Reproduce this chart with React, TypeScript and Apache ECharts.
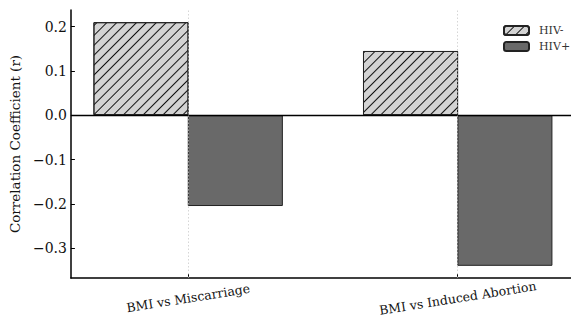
import React, { useEffect, useRef } from "react";
import * as echarts from "echarts";

const CATEGORIES = ["BMI vs Miscarriage", "BMI vs Induced Abortion"];
const SERIES_NAMES = ["HIV-", "HIV+"];
const HIV_NEG = [0.21, 0.145];
const HIV_POS = [-0.205, -0.34];
const Y_TICKS = [-0.3, -0.2, -0.1, 0.0, 0.1, 0.2];
const X_TICKS = [0, 1];

const BAR_W = 0.35;
const FONT = "DejaVu Serif";

export default function App() {
  const ref = useRef<HTMLDivElement>(null);
  useEffect(() => {
    document.body.style.margin = "0";
    if (!ref.current) return;
    const chart = echarts.init(ref.current, null, { renderer: "svg" });

    const gridLeft = 67;
    const gridRight = 0;
    const plotW = 571 - gridLeft - gridRight;
    const fullPlotW = plotW + 4;
    const allVals = [...HIV_NEG, ...HIV_POS];
    const yMinD = Math.min(...allVals, 0);
    const yMaxD = Math.max(...allVals, 0);
    const yPad = (yMaxD - yMinD) * 0.05;
    const yMin = yMinD - yPad;
    const yMax = yMaxD + yPad;
    const xMinD = X_TICKS[0] - BAR_W;
    const xMaxD = X_TICKS[X_TICKS.length - 1] + BAR_W;
    const xPad = (xMaxD - xMinD) * 0.05;
    const xMin = xMinD - xPad;
    const xMaxFull = xMaxD + xPad;
    const xMax = xMin + ((xMaxFull - xMin) * plotW) / fullPlotW;
    const barPx = (BAR_W * plotW) / (xMax - xMin);

    const negData = HIV_NEG.map((v, i) => [X_TICKS[i] - BAR_W / 2, v]);
    const posData = HIV_POS.map((v, i) => [X_TICKS[i] + BAR_W / 2, v]);

    const gridLines = X_TICKS.map((x) => [
      { coord: [x, yMin], lineStyle: { color: "#c4c4c4", width: 0.7, type: [1.5, 2] } },
      { coord: [x, yMax] },
    ]);

    const axisColor = "#000";

    chart.setOption({
      animation: false,
      textStyle: { fontFamily: FONT },
      grid: { left: gridLeft, right: gridRight, top: 10, bottom: 321 - 278 },
      legend: {
        orient: "vertical",
        left: 498,
        top: 20,
        itemWidth: 25,
        itemHeight: 9,
        itemGap: 5,
        textStyle: { fontFamily: FONT, fontSize: 11, color: "#333", padding: [0, 0, 0, 5] },
        data: SERIES_NAMES,
      },
      xAxis: {
        type: "value",
        min: xMin,
        max: xMax,
        axisLine: { onZero: false, lineStyle: { color: axisColor, width: 1.5 } },
        axisTick: { show: true, inside: true, length: 4, customValues: X_TICKS, lineStyle: { color: axisColor } },
        axisLabel: {
          customValues: X_TICKS,
          formatter: (v: number) => CATEGORIES[Math.round(v)] ?? "",
          rotate: 9,
          align: "center",
          verticalAlign: "middle",
          margin: 20,
          fontFamily: FONT,
          fontSize: 12.5,
          color: "#111",
        },
        splitLine: { show: false },
      },
      yAxis: {
        type: "value",
        min: yMin,
        max: yMax,
        name: "Correlation Coefficient (r)",
        nameLocation: "middle",
        nameGap: 45,
        nameTextStyle: { fontFamily: FONT, fontSize: 13.5, color: "#111" },
        axisLine: { show: true, onZero: false, lineStyle: { color: axisColor, width: 1.5 } },
        axisTick: { show: true, inside: true, length: 4, customValues: Y_TICKS, lineStyle: { color: axisColor } },
        axisLabel: {
          customValues: Y_TICKS,
          formatter: (v: number) => (v < -1e-9 ? "\u2212" : "") + Math.abs(v).toFixed(1),
          margin: 4,
          fontFamily: FONT,
          fontSize: 14,
          color: "#111",
        },
        splitLine: { show: false },
      },
      series: [
        {
          name: SERIES_NAMES[0],
          type: "bar",
          data: negData,
          barWidth: barPx,
          barGap: "-100%",
          itemStyle: {
            color: "#d3d3d3",
            borderColor: "#222",
            borderWidth: 1,
            decal: {
              symbol: "rect",
              symbolSize: 1,
              color: "#111",
              dashArrayX: [1, 0],
              dashArrayY: [1, 5.7],
              rotation: -Math.PI / 4,
            },
          },
          markLine: {
            silent: true,
            symbol: ["none", "none"],
            label: { show: false },
            emphasis: { disabled: true },
            data: [{ yAxis: 0, lineStyle: { color: axisColor, width: 1.3, type: "solid" } }],
          },
        },
        {
          name: SERIES_NAMES[1],
          type: "bar",
          data: posData,
          barWidth: barPx,
          barGap: "-100%",
          itemStyle: { color: "#696969", borderColor: "#222", borderWidth: 1 },
          markLine: {
            silent: true,
            symbol: ["none", "none"],
            label: { show: false },
            emphasis: { disabled: true },
            data: gridLines,
          },
        },
      ],
    });
    return () => chart.dispose();
  }, []);
  return <div ref={ref} style={{ width: 571, height: 321 }} />;
}
